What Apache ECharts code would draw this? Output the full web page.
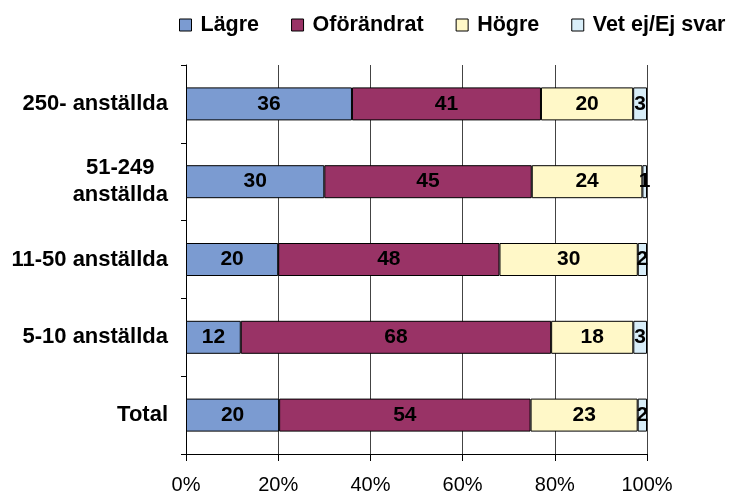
<!DOCTYPE html>
<html>
<head>
<meta charset="utf-8">
<script src="https://cdn.jsdelivr.net/npm/echarts@6/dist/echarts.min.js"></script>
<style>
  html, body { margin: 0; padding: 0; background: #fff; }
  #chart { width: 736px; height: 495px; }
</style>
</head>
<body>
<div id="chart"></div>
<script>
// categories top to bottom
const categories = ['250- anställda', '51-249\nanställda', '11-50 anställda', '5-10 anställda', 'Total'];
const lagre = [36, 30, 20, 12, 20];
const oforandrat = [41, 45, 48, 68, 54];
const hogre = [20, 24, 30, 18, 23];
const vetEj = [3, 1, 2, 3, 2];
const xTicks = [0, 20, 40, 60, 80, 100];

const font = '"Liberation Sans", Arial, sans-serif';
const groups = [
  { name: 'Lägre', data: lagre, color: '#7b9bd1' },
  { name: 'Oförändrat', data: oforandrat, color: '#993366' },
  { name: 'Högre', data: hogre, color: '#fff8c8' },
  { name: 'Vet ej/Ej svar', data: vetEj, color: '#d9eef9' },
];

// 100% stacked: each bar is scaled to its row total, labels show the raw value
const totals = categories.map((_, i) => groups.reduce((s, g) => s + g.data[i], 0));

const chart = echarts.init(document.getElementById('chart'), null, { renderer: 'canvas' });

chart.setOption({
  animation: false,
  textStyle: { fontFamily: font },
  legend: {
    left: 179,
    top: 14,
    padding: 0,
    itemWidth: 12,
    itemHeight: 12,
    itemGap: 32,
    icon: 'rect',
    itemStyle: { borderColor: '#000', borderWidth: 1 },
    textStyle: { fontFamily: font, fontSize: 21.5, fontWeight: 'bold', color: '#000', padding: [0, 0, 0, 4] },
    data: groups.map(g => g.name),
  },
  grid: { left: 186, right: 89, top: 65, bottom: 40, containLabel: false },
  xAxis: {
    type: 'value',
    min: 0,
    max: 100,
    interval: 20,
    axisLine: { show: true, lineStyle: { color: '#000', width: 1 } },
    axisTick: { show: true, length: 7, lineStyle: { color: '#000' } },
    axisLabel: {
      margin: 21,
      fontSize: 20,
      color: '#000',
      fontFamily: font,
      formatter: v => xTicks.includes(v) ? v + '%' : '',
    },
    splitLine: { show: true, lineStyle: { color: '#444', width: 1 } },
  },
  yAxis: {
    type: 'category',
    inverse: true,
    data: categories,
    axisLine: { show: true, lineStyle: { color: '#000', width: 1 } },
    axisTick: { show: true, length: 5, lineStyle: { color: '#000' } },
    axisLabel: {
      margin: 18,
      fontSize: 22,
      fontWeight: 'bold',
      color: '#000',
      fontFamily: font,
      lineHeight: 27,
      formatter: v => v.split('\n').map(l => '{c|' + l + '}').join('\n'),
      rich: { c: { align: 'center', fontSize: 22, fontWeight: 'bold', lineHeight: 27, fontFamily: font, color: '#000' } },
    },
  },
  series: groups.map(g => ({
    name: g.name,
    type: 'bar',
    stack: 'total',
    barWidth: 33,
    data: g.data.map((v, i) => v / totals[i] * 100),
    itemStyle: { color: g.color, borderColor: '#000', borderWidth: 1 },
    label: {
      show: true,
      position: 'inside',
      fontSize: 21,
      fontWeight: 'bold',
      color: '#000',
      fontFamily: font,
      formatter: p => String(g.data[p.dataIndex]),
    },
  })),
});
</script>
</body>
</html>
